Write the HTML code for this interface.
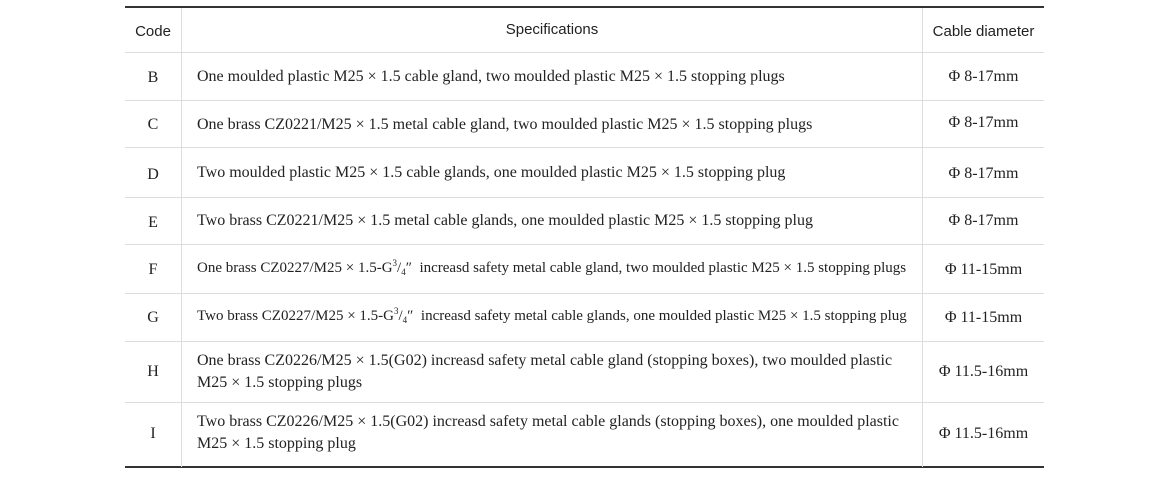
<!DOCTYPE html>
<html><head><meta charset="utf-8"><style>
body{margin:0;width:1170px;height:480px;background:#fff;position:relative;font-family:"Liberation Serif",serif;color:#222;overflow:hidden}
.h{position:absolute;left:125px;width:919px;background:#ddd;height:1px}
.v{position:absolute;width:1px;background:#ddd;top:8px;height:459px}
.t{position:absolute;font-size:16px;white-space:nowrap;line-height:22px}
.c{text-align:center}
.s{font-family:"Liberation Sans",sans-serif;font-size:15px}
sup,sub{font-size:9px;line-height:0;position:relative;vertical-align:baseline}
sup{top:-6px}sub{top:3px}
</style></head><body>
<div class="h" style="top:6px;height:2px;background:#333"></div>
<div class="h" style="top:52px"></div>
<div class="h" style="top:100px"></div>
<div class="h" style="top:147px"></div>
<div class="h" style="top:197px"></div>
<div class="h" style="top:244px"></div>
<div class="h" style="top:293px"></div>
<div class="h" style="top:341px"></div>
<div class="h" style="top:402px"></div>
<div class="h" style="top:466px;height:2px;background:#333"></div>
<div class="v" style="left:181px"></div>
<div class="v" style="left:922px"></div>

<div class="t c s" style="left:125px;width:56px;top:21px">Code</div>
<div class="t c s" style="left:182px;width:740px;top:19px">Specifications</div>
<div class="t c s" style="left:923px;width:121px;top:21px">Cable diameter</div>

<div class="t c" style="left:125px;width:56px;top:67px">B</div>
<div class="t" style="left:197px;top:66px">One moulded plastic M25 × 1.5 cable gland, two moulded plastic M25 × 1.5 stopping plugs</div>
<div class="t c" style="left:923px;width:121px;top:66px">Φ 8-17mm</div>

<div class="t c" style="left:125px;width:56px;top:114px">C</div>
<div class="t" style="left:197px;top:114px">One brass CZ0221/M25 × 1.5 metal cable gland, two moulded plastic M25 × 1.5 stopping plugs</div>
<div class="t c" style="left:923px;width:121px;top:112px">Φ 8-17mm</div>

<div class="t c" style="left:125px;width:56px;top:164px">D</div>
<div class="t" style="left:197px;top:162px">Two moulded plastic M25 × 1.5 cable glands, one moulded plastic M25 × 1.5 stopping plug</div>
<div class="t c" style="left:923px;width:121px;top:163px">Φ 8-17mm</div>

<div class="t c" style="left:125px;width:56px;top:212px">E</div>
<div class="t" style="left:197px;top:210px">Two brass CZ0221/M25 × 1.5 metal cable glands, one moulded plastic M25 × 1.5 stopping plug</div>
<div class="t c" style="left:923px;width:121px;top:210px">Φ 8-17mm</div>

<div class="t c" style="left:125px;width:56px;top:259px">F</div>
<div class="t" style="left:197px;top:257px;font-size:15px">One brass CZ0227/M25 × 1.5-G<sup>3</sup>/<sub>4</sub>″ &nbsp;increasd safety metal cable gland, two moulded plastic M25 × 1.5 stopping plugs</div>
<div class="t c" style="left:923px;width:121px;top:259px">Φ 11-15mm</div>

<div class="t c" style="left:125px;width:56px;top:307px">G</div>
<div class="t" style="left:197px;top:305px;font-size:15px">Two brass CZ0227/M25 × 1.5-G<sup>3</sup>/<sub>4</sub>″ &nbsp;increasd safety metal cable glands, one moulded plastic M25 × 1.5 stopping plug</div>
<div class="t c" style="left:923px;width:121px;top:307px">Φ 11-15mm</div>

<div class="t c" style="left:125px;width:56px;top:361px">H</div>
<div class="t" style="left:197px;top:350px">One brass CZ0226/M25 × 1.5(G02) increasd safety metal cable gland (stopping boxes), two moulded plastic<br>M25 × 1.5 stopping plugs</div>
<div class="t c" style="left:923px;width:121px;top:361px">Φ 11.5-16mm</div>

<div class="t c" style="left:125px;width:56px;top:423px">I</div>
<div class="t" style="left:197px;top:411px">Two brass CZ0226/M25 × 1.5(G02) increasd safety metal cable glands (stopping boxes), one moulded plastic<br>M25 × 1.5 stopping plug</div>
<div class="t c" style="left:923px;width:121px;top:423px">Φ 11.5-16mm</div>
</body></html>
